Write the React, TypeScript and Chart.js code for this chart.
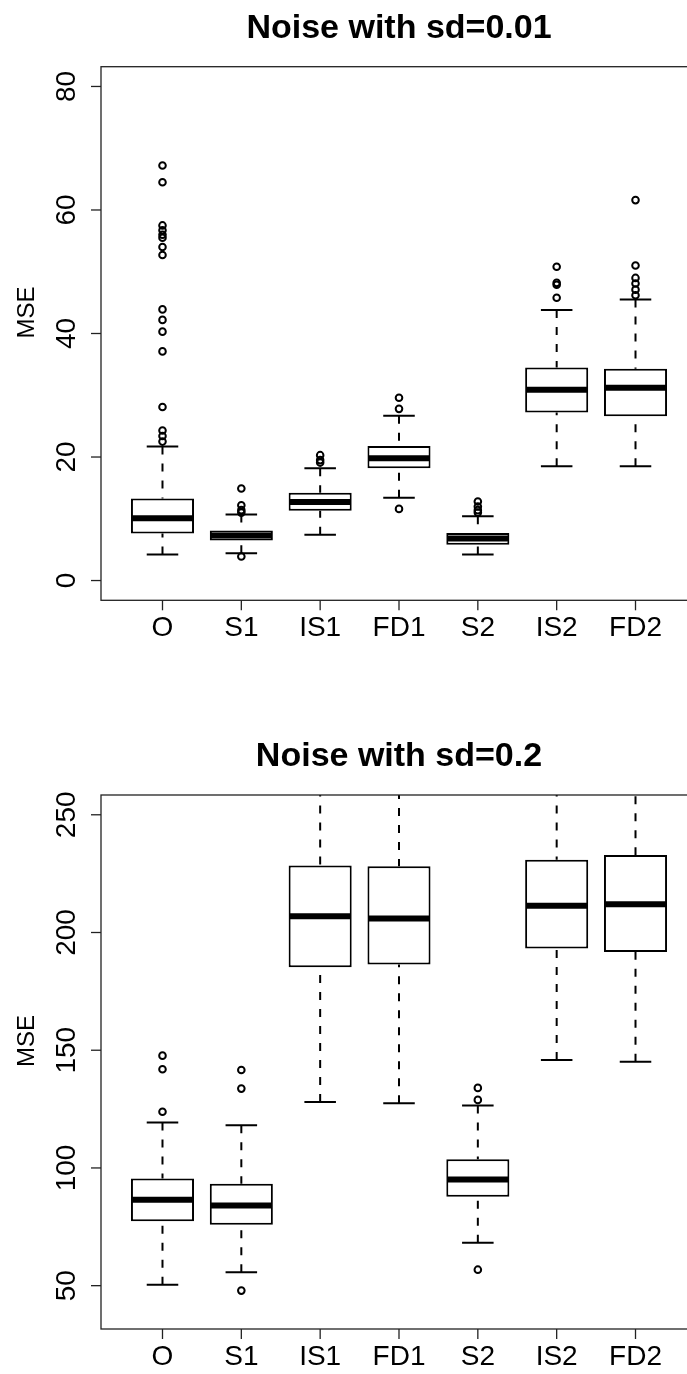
import React, { useEffect, useRef } from 'react';
import { Chart, registerables } from 'chart.js';

Chart.register(...registerables);

// ---------- data ----------
const categories = ['O', 'S1', 'IS1', 'FD1', 'S2', 'IS2', 'FD2'];

// Panel 1: noise sd = 0.01
const p1Title = 'Noise with sd=0.01';
const p1YLim = [0, 80];
const p1Ticks = [0, 20, 40, 60, 80];
const p1LowerWhisker = [4.2, 4.4, 7.4, 13.4, 4.2, 18.5, 18.5];
const p1Q1 = [7.6, 6.5, 11.3, 18.2, 5.8, 27.2, 26.6];
const p1Median = [10.1, 7.3, 12.7, 19.8, 6.8, 30.9, 31.2];
const p1Q3 = [13.3, 8.1, 14.2, 21.8, 7.7, 34.5, 34.3];
const p1UpperWhisker = [21.7, 10.7, 18.2, 26.7, 10.4, 43.8, 45.5];
const p1Outliers = [
  [67.2, 64.5, 57.5, 56.7, 56.0, 55.5, 54.0, 52.7, 43.9, 42.2, 40.3, 37.1, 28.1, 24.3, 23.4, 22.5],
  [14.9, 12.2, 11.4, 11.0, 3.9],
  [20.3, 19.5, 19.1],
  [29.6, 27.8, 11.6],
  [12.8, 12.0, 11.4, 11.0],
  [50.8, 48.2, 47.9, 45.8],
  [61.6, 51.0, 49.0, 48.1, 47.1, 46.2],
];

// Panel 2: noise sd = 0.2
const p2Title = 'Noise with sd=0.2';
const p2YLim = [40, 250];
const p2Ticks = [50, 100, 150, 200, 250];
const p2LowerWhisker = [50.4, 55.7, 128.0, 127.5, 68.2, 145.8, 145.1];
const p2Q1 = [77.4, 75.9, 185.2, 186.4, 87.8, 193.2, 191.7];
const p2Median = [86.5, 84.0, 206.9, 206.0, 95.1, 211.4, 212.0];
const p2Q3 = [95.5, 93.3, 228.5, 228.1, 103.7, 230.9, 232.9];
const p2UpperWhisker = [119.3, 118.1, 290, 289, 126.5, 290, 294];
const p2Outliers = [
  [147.7, 141.9, 123.9],
  [141.6, 133.7, 47.9],
  [],
  [],
  [134.0, 128.9, 56.8],
  [],
  [],
];

const yLabel = 'MSE';
const FONT = '"Liberation Sans", Arial, Helvetica, sans-serif';

type PanelProps = {
  title: string;
  yLim: number[];
  ticks: number[];
  lo: number[];
  q1: number[];
  med: number[];
  q3: number[];
  hi: number[];
  outliers: number[][];
  padTop: number;
  padBottom: number;
};

function Panel(props: PanelProps) {
  const ref = useRef<HTMLCanvasElement | null>(null);

  useEffect(() => {
    const canvas = ref.current;
    if (!canvas) return;
    const { title, yLim, ticks, lo, q1, med, q3, hi, outliers } = props;
    const yr = yLim[1] - yLim[0];
    const xMin = 0.5 - 0.04 * categories.length;
    const xMax = categories.length + 0.5 + 0.04 * categories.length;

    const boxPlugin = {
      id: 'rbox',
      beforeDatasetsDraw(chart: any) {
        const { ctx, chartArea } = chart;
        const xs = chart.scales.x;
        const ys = chart.scales.y;
        const meta = chart.getDatasetMeta(0);
        ctx.save();
        ctx.beginPath();
        ctx.rect(chartArea.left, chartArea.top, chartArea.right - chartArea.left, chartArea.bottom - chartArea.top);
        ctx.clip();
        ctx.strokeStyle = '#000';
        ctx.lineWidth = 2;
        categories.forEach((_, i) => {
          const x = xs.getPixelForValue(i + 1);
          const w = meta.data[i].width;
          const yLo = ys.getPixelForValue(lo[i]);
          const yQ1 = ys.getPixelForValue(q1[i]);
          const yQ3 = ys.getPixelForValue(q3[i]);
          const yHi = ys.getPixelForValue(hi[i]);
          ctx.setLineDash([8, 9]);
          ctx.beginPath();
          ctx.moveTo(x, yLo);
          ctx.lineTo(x, yQ1);
          ctx.moveTo(x, yHi);
          ctx.lineTo(x, yQ3);
          ctx.stroke();
          ctx.setLineDash([]);
          ctx.beginPath();
          ctx.moveTo(x - w / 4, yLo);
          ctx.lineTo(x + w / 4, yLo);
          ctx.moveTo(x - w / 4, yHi);
          ctx.lineTo(x + w / 4, yHi);
          ctx.stroke();
        });
        ctx.restore();
      },
      afterDatasetsDraw(chart: any) {
        const { ctx, chartArea } = chart;
        const xs = chart.scales.x;
        const ys = chart.scales.y;
        const meta = chart.getDatasetMeta(0);
        ctx.save();
        // medians
        ctx.strokeStyle = '#000';
        ctx.lineWidth = 6;
        ctx.lineCap = 'butt';
        categories.forEach((_, i) => {
          const x = xs.getPixelForValue(i + 1);
          const w = meta.data[i].width;
          const y = ys.getPixelForValue(med[i]);
          ctx.beginPath();
          ctx.moveTo(x - w / 2 + 1, y);
          ctx.lineTo(x + w / 2 - 1, y);
          ctx.stroke();
        });
        // frame
        ctx.strokeStyle = '#222';
        ctx.lineWidth = 1.3;
        ctx.strokeRect(chartArea.left, chartArea.top, chartArea.right - chartArea.left, chartArea.bottom - chartArea.top);
        // y axis ticks + labels
        ctx.fillStyle = '#000';
        ctx.font = `28px ${FONT}`;
        ctx.textAlign = 'center';
        ctx.textBaseline = 'middle';
        ticks.forEach((t) => {
          const y = ys.getPixelForValue(t);
          ctx.beginPath();
          ctx.moveTo(chartArea.left, y);
          ctx.lineTo(chartArea.left - 10, y);
          ctx.stroke();
          ctx.save();
          ctx.translate(chartArea.left - 34, y);
          ctx.rotate(-Math.PI / 2);
          ctx.fillText(String(t), 0, 0);
          ctx.restore();
        });
        // x axis ticks + labels
        categories.forEach((c, i) => {
          const x = xs.getPixelForValue(i + 1);
          ctx.beginPath();
          ctx.moveTo(x, chartArea.bottom);
          ctx.lineTo(x, chartArea.bottom + 10);
          ctx.stroke();
          ctx.fillText(c, x, chartArea.bottom + 28);
        });
        // y label
        ctx.font = `24px ${FONT}`;
        ctx.save();
        ctx.translate(27, (chartArea.top + chartArea.bottom) / 2 - 21);
        ctx.rotate(-Math.PI / 2);
        ctx.fillText(yLabel, 0, 0);
        ctx.restore();
        // title
        ctx.font = `bold 34px ${FONT}`;
        ctx.textBaseline = 'alphabetic';
        ctx.fillText(title, (chartArea.left + chartArea.right) / 2, chartArea.top - 29);
        ctx.restore();
      },
    };

    const outlierPoints: { x: number; y: number }[] = [];
    outliers.forEach((arr, i) => arr.forEach((v) => outlierPoints.push({ x: i + 1, y: v })));

    const chart = new Chart(canvas, {
      type: 'bar',
      data: {
        datasets: [
          {
            type: 'bar',
            data: categories.map((_, i) => ({ x: i + 1, y: [q1[i], q3[i]] })) as any,
            backgroundColor: '#ffffff',
            borderColor: '#000000',
            borderWidth: 2,
            borderSkipped: false,
            barPercentage: 0.8,
            categoryPercentage: 1,
            order: 2,
          } as any,
          {
            type: 'line',
            data: outlierPoints as any,
            showLine: false,
            pointRadius: 3.3,
            pointBorderWidth: 2,
            pointBackgroundColor: 'rgba(0,0,0,0)',
            pointBorderColor: '#000',
            borderColor: '#000',
            order: 1,
          } as any,
        ],
      },
      options: {
        animation: false,
        responsive: false,
        maintainAspectRatio: false,
        devicePixelRatio: 1,
        layout: { padding: { left: 101, right: 23, top: props.padTop, bottom: props.padBottom } },
        plugins: { legend: { display: false }, tooltip: { enabled: false }, title: { display: false } },
        scales: {
          x: {
            type: 'linear',
            display: false,
            offset: false,
            min: xMin,
            max: xMax,
            afterBuildTicks: (s: any) => {
              s.ticks = categories.map((_, i) => ({ value: i + 1 }));
            },
          },
          y: {
            type: 'linear',
            display: false,
            min: yLim[0] - 0.04 * yr,
            max: yLim[1] + 0.04 * yr,
          },
        },
      } as any,
      plugins: [boxPlugin],
    });
    return () => chart.destroy();
  }, []);

  return (
    <div style={{ width: 687, height: 687, overflow: 'hidden', position: 'relative' }}>
      <canvas ref={ref} width={720} height={687} style={{ width: 720, height: 687, display: 'block' }} />
    </div>
  );
}

export default function App() {
  return (
    <div style={{ position: 'absolute', left: 0, top: 0, width: 687, height: 1374, background: '#fff' }}>
      <Panel
        title={p1Title}
        yLim={p1YLim}
        ticks={p1Ticks}
        lo={p1LowerWhisker}
        q1={p1Q1}
        med={p1Median}
        q3={p1Q3}
        hi={p1UpperWhisker}
        outliers={p1Outliers}
        padTop={66.7}
        padBottom={86.7}
      />
      <Panel
        title={p2Title}
        yLim={p2YLim}
        ticks={p2Ticks}
        lo={p2LowerWhisker}
        q1={p2Q1}
        med={p2Median}
        q3={p2Q3}
        hi={p2UpperWhisker}
        outliers={p2Outliers}
        padTop={108}
        padBottom={45}
      />
    </div>
  );
}
